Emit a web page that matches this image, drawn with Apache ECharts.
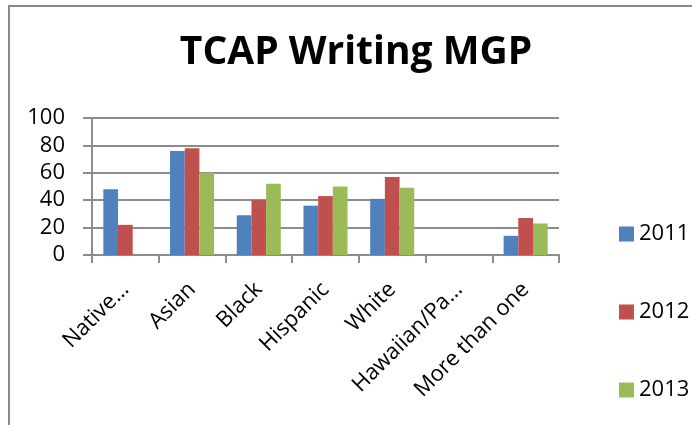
<!DOCTYPE html>
<html>
<head>
<meta charset="utf-8">
<style>
  html, body { margin: 0; padding: 0; background: #fff; }
  #chart { width: 692px; height: 425px; }
</style>
<script src="https://cdn.jsdelivr.net/npm/echarts@6/dist/echarts.min.js"></script>
</head>
<body>
<div id="chart"></div>
<script>
// Student groups along the x axis
const categories = ['Native…', 'Asian', 'Black', 'Hispanic', 'White', 'Hawaiian/Pa…', 'More than one'];
// Median growth percentile by year (null = no reported value)
const mgp2011 = [48, 76, 29, 36, 41, null, 14];
const mgp2012 = [22, 78, 40, 43, 57, null, 27];
const mgp2013 = [null, 60, 52, 50, 49, null, 23];
const yTicks = [0, 20, 40, 60, 80, 100];

const FONT = 'Open Sans';
const GRID = '#8c8c8c';

const chart = echarts.init(document.getElementById('chart'), null, { renderer: 'canvas' });

function barSeries(name, data, color) {
  return {
    name: name,
    type: 'bar',
    data: data,
    barGap: '0%',
    barCategoryGap: '34%',
    itemStyle: { color: color },
    emphasis: { disabled: true }
  };
}

chart.setOption({
  animation: false,
  backgroundColor: '#fff',
  title: {
    text: 'TCAP Writing MGP',
    left: 351,
    top: 28,
    textAlign: 'center',
    textStyle: { fontFamily: FONT, fontWeight: 'bold', fontSize: 39, color: '#000' }
  },
  legend: {
    orient: 'vertical',
    left: 614,
    top: 218,
    itemWidth: 15,
    itemHeight: 15,
    itemGap: 56,
    icon: 'rect',
    textStyle: { fontFamily: FONT, fontSize: 22, color: '#000', lineHeight: 22, padding: [0, 0, 0, 0] },
    data: ['2011', '2012', '2013']
  },
  grid: { left: 92, right: 133, top: 118, bottom: 170, containLabel: false },
  xAxis: {
    type: 'category',
    data: categories,
    axisLine: { lineStyle: { color: GRID, width: 2 } },
    axisTick: { show: true, alignWithLabel: false, length: 8, lineStyle: { color: GRID, width: 2 } },
    axisLabel: {
      interval: 0,
      rotate: 45,
      margin: 31,
      align: 'right',
      verticalAlign: 'middle',
      fontFamily: FONT,
      fontSize: 22,
      color: '#000'
    }
  },
  yAxis: {
    type: 'value',
    min: yTicks[0],
    max: yTicks[yTicks.length - 1],
    interval: 20,
    axisLine: { show: true, lineStyle: { color: GRID, width: 2 } },
    axisTick: { show: true, length: 9, lineStyle: { color: GRID, width: 2 } },
    splitLine: { show: true, lineStyle: { color: GRID, width: 2 } },
    axisLabel: { margin: 27, fontFamily: FONT, fontSize: 22, color: '#000' }
  },
  series: [
    barSeries('2011', mgp2011, '#4F81BD'),
    barSeries('2012', mgp2012, '#C0504D'),
    barSeries('2013', mgp2013, '#9BBB59')
  ],
  graphic: [
    {
      type: 'polyline',
      shape: { points: [[9, 425], [9, 6], [692, 6]] },
      style: { stroke: '#8a8a8a', lineWidth: 2, fill: null },
      silent: true
    }
  ]
});
</script>
</body>
</html>
